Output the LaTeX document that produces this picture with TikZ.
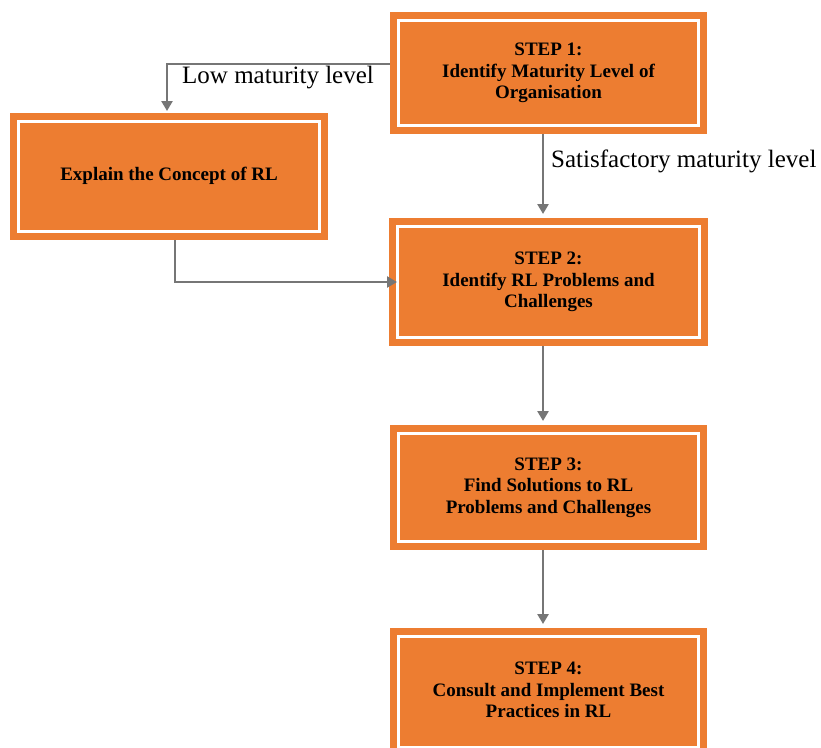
\documentclass[tikz,border=0pt]{standalone}
\usepackage{fontspec}
\setmainfont{Liberation Serif}
\usetikzlibrary{arrows.meta}
\definecolor{boxorange}{RGB}{237,125,49}
\definecolor{conngray}{RGB}{118,118,118}
\tikzset{
  stepbox/.style={rectangle, fill=boxorange, draw=boxorange, line width=7pt,
    double=white, double distance=2.8pt, inner sep=0pt, outer sep=8.4pt,
    align=center, text=black, font=\bfseries\fontsize{19}{21.5}\selectfont},
  conn/.style={draw=conngray, line width=2.5pt,
    -{Triangle[width=11pt,length=10pt]}},
  lbl/.style={font=\fontsize{25}{28}\selectfont, text=black, inner sep=0pt}
}
\begin{document}
\begin{tikzpicture}[x=1pt,y=-1pt]
\useasboundingbox (0,0) rectangle (821,747);
\clip (0,0) rectangle (821,747);
\fill[white] (0,0) rectangle (821,747);

\node[stepbox, minimum width=300.2pt, minimum height=105.2pt] (b1) at (548.5,73)
  {\raisebox{8pt}{\begin{tabular}{@{}c@{}}STEP 1:\\Identify Maturity Level of\\Organisation\end{tabular}}};
\node[stepbox, minimum width=301.2pt, minimum height=110.2pt] (ex) at (169,176.5)
  {\raisebox{6pt}{Explain the Concept of RL}};
\node[stepbox, minimum width=302.2pt, minimum height=111.2pt] (b2) at (548.5,282)
  {\raisebox{5pt}{\begin{tabular}{@{}c@{}}STEP 2:\\Identify RL Problems and\\Challenges\end{tabular}}};
\node[stepbox, minimum width=300.2pt, minimum height=108.2pt] (b3) at (548.5,487.5)
  {\raisebox{5pt}{\begin{tabular}{@{}c@{}}STEP 3:\\Find Solutions to RL\\Problems and Challenges\end{tabular}}};
\node[stepbox, minimum width=300.2pt, minimum height=111.2pt] (b4) at (548.5,692)
  {\raisebox{6pt}{\begin{tabular}{@{}c@{}}STEP 4:\\Consult and Implement Best\\Practices in RL\end{tabular}}};

\draw[conn, shorten >=2pt] ([yshift=9pt]b1.west) -| ([xshift=-2pt]ex.north);
\draw[conn, shorten >=-8pt] ([xshift=6pt]ex.south) |- (b2.west);
\draw[conn, shorten >=4pt] ([xshift=-5.5pt]b1.south) -- ([xshift=-5.5pt]b2.north);
\draw[conn, shorten >=4pt] ([xshift=-5.5pt]b2.south) -- ([xshift=-5.5pt]b3.north);
\draw[conn, shorten >=4pt] ([xshift=-5.5pt]b3.south) -- ([xshift=-5.5pt]b4.north);

\node[lbl, anchor=west] (lowl) at (182,78) {Low maturity level};
\node[lbl, anchor=west] (satl) at (551,161) {Satisfactory maturity level};
\end{tikzpicture}
\end{document}
